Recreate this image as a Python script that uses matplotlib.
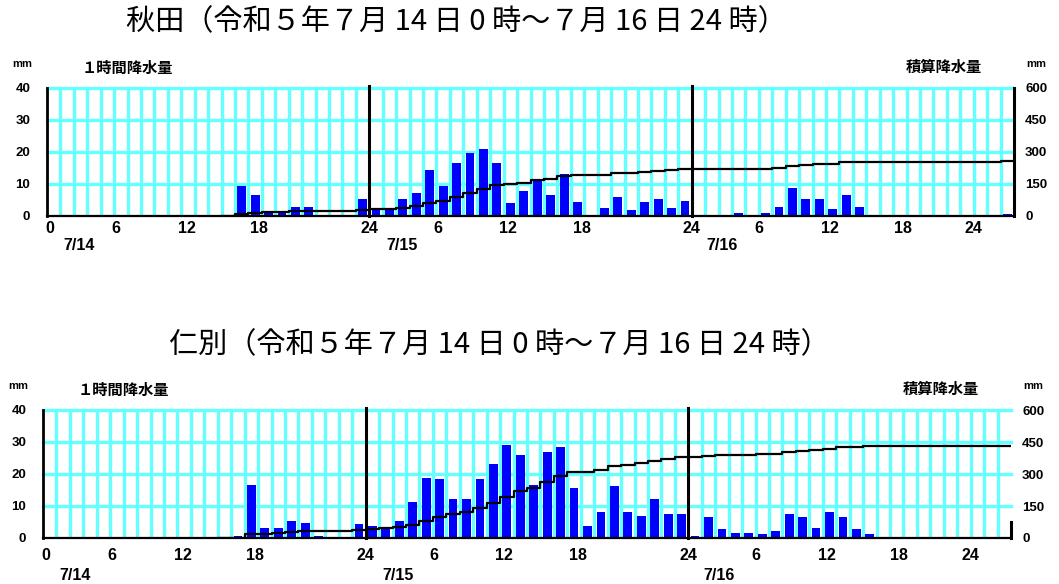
import numpy as np
import matplotlib
matplotlib.use('Agg')
import matplotlib.pyplot as plt

# hourly precipitation (mm), 7/14 1h .. 7/16 24h
akita_day1 = [0, 0, 0, 0, 0, 0, 0, 0, 0, 0, 0, 0, 0, 0, 9.5, 6.7, 1.3, 1.2, 2.8, 2.8, 0, 0, 0, 5.2]
akita_day2 = [2.6, 2.0, 5.4, 7.2, 14.4, 9.5, 16.5, 19.8, 20.8, 16.5, 4.0, 7.8,
              11.1, 6.5, 13.1, 4.4, 0.3, 2.6, 5.9, 2.0, 4.4, 5.2, 2.6, 4.8]
akita_day3 = [0, 0.3, 0.3, 1.0, 0, 1.0, 2.7, 8.8, 5.4, 5.4, 2.1, 6.6,
              2.7, 0, 0, 0, 0, 0, 0, 0, 0, 0, 0, 0.5]

niwa_day1 = [0, 0, 0, 0, 0, 0, 0, 0, 0, 0, 0, 0, 0, 0, 0.6, 16.7, 3.2, 3.2, 5.4, 4.7, 0.5, 0, 0, 4.3]
niwa_day2 = [3.8, 2.7, 5.4, 11.3, 18.8, 18.3, 12.3, 12.3, 18.3, 23.2, 29.0, 25.8,
             16.7, 26.9, 28.5, 15.7, 3.8, 8.1, 16.1, 8.1, 6.9, 12.3, 7.5, 7.5]
niwa_day3 = [0.6, 6.6, 2.7, 1.6, 1.6, 1.1, 2.1, 7.5, 6.5, 3.2, 8.1, 6.5,
             2.7, 1.1, 0, 0, 0, 0, 0, 0, 0, 0, 0, 0]

titles = ['秋田（令和５年７月 14 日 0 時～７月 16 日 24 時）',
          '仁別（令和５年７月 14 日 0 時～７月 16 日 24 時）']
hour_labels = ['0', '6', '12', '18', '24', '6', '12', '18', '24', '6', '12', '18', '24']
date_labels = ['7/14', '7/15', '7/16']
left_ticks = [0, 10, 20, 30, 40]
right_ticks = [0, 150, 300, 450, 600]

# where the original puts its hour / date labels (in hours along the axis)
hour_label_pos = [0.2, 5.1, 10.4, 15.8, 24, 29.1, 34.3, 39.8, 48, 53, 58.3, 63.7, 69]
date_label_pos = [2.4, 26.4, 50.3]

CYAN = '#66ffff'
BLUE = '#0000ff'
NUM_FONT = ['Liberation Sans', 'DejaVu Sans']
JP_FONT = ['Noto Sans CJK JP', 'DejaVu Sans']

W, H = 1059, 584
fig = plt.figure(figsize=(W / 100, H / 100), dpi=100)


def fpos(x, y):
    return x / W, 1 - y / H


def panel(left, top, right, bottom, rain, title, title_xy, lab_dy, date_dy, full_right):
    ax = fig.add_axes([left / W, 1 - bottom / H, (right - left) / W, (bottom - top) / H])
    hours = np.arange(1, len(rain) + 1)
    ax.set_xlim(0, 72)
    ax.set_ylim(0, 40)
    for h in range(1, 72):
        if h % 24:
            ax.axvline(h, color=CYAN, lw=2.4, zorder=1)
    for v in left_ticks[1:]:
        ax.axhline(v, color=CYAN, lw=2.4, zorder=1, clip_on=False)
    ax.bar(hours - 0.5, rain, width=0.66, color=BLUE, zorder=2)
    for d in (24, 48):
        ax.plot([d, d], [0, 40.6], color='black', lw=2.2, zorder=4, clip_on=False)

    ax.set_xticks([])
    ax.set_yticks(left_ticks)
    ax.set_yticklabels([str(t) for t in left_ticks], fontfamily=NUM_FONT,
                       fontweight='bold', fontsize=9.5)
    ax.tick_params(axis='y', length=0, pad=12)
    ax.spines['top'].set_visible(False)
    ax.spines['right'].set_visible(False)
    ax.spines['left'].set_linewidth(2.0)
    ax.spines['bottom'].set_linewidth(1.6)

    for lab, pos in zip(hour_labels, hour_label_pos):
        ax.annotate(lab, xy=(pos, 0), xycoords=('data', 'axes fraction'),
                    xytext=(0, -lab_dy), textcoords='offset pixels',
                    ha='center', va='center', fontfamily=NUM_FONT,
                    fontweight='bold', fontsize=11.5)
    for lab, pos in zip(date_labels, date_label_pos):
        ax.annotate(lab, xy=(pos, 0), xycoords=('data', 'axes fraction'),
                    xytext=(0, -date_dy), textcoords='offset pixels',
                    ha='center', va='center', fontfamily=NUM_FONT,
                    fontweight='bold', fontsize=11.5)

    # accumulated precipitation on the right scale
    ax2 = ax.twinx()
    ax2.set_ylim(0, 600)
    total = np.r_[0, np.cumsum(rain)]
    keep = np.r_[total[1:] > 0, True]
    total = np.where(keep, total, np.nan)
    ax2.plot(np.arange(len(total)), total, drawstyle='steps-pre', color='black', lw=1.6, zorder=5)
    ax2.set_yticks(right_ticks)
    ax2.set_yticklabels([str(t) for t in right_ticks], fontfamily=NUM_FONT,
                        fontweight='bold', fontsize=9.5)
    ax2.tick_params(axis='y', length=0, pad=8)
    for s in ('top', 'left', 'bottom'):
        ax2.spines[s].set_visible(False)
    ax2.spines['right'].set_linewidth(2.2)
    if not full_right:
        ax2.spines['right'].set_bounds(0, 75)

    tx, ty = fpos(*title_xy)
    fig.text(tx, ty, title, ha='center', va='center', fontfamily=JP_FONT, fontsize=21)
    tx, ty = fpos(left - 25, top - 24)
    fig.text(tx, ty, 'mm', ha='center', va='center', fontfamily=NUM_FONT, fontweight='bold', fontsize=8)
    tx, ty = fpos(right + 22, top - 24)
    fig.text(tx, ty, 'mm', ha='center', va='center', fontfamily=NUM_FONT, fontweight='bold', fontsize=8)
    tx, ty = fpos(left + 80, top - 20)
    fig.text(tx, ty, '１時間降水量', ha='center', va='center', fontfamily=JP_FONT,
             fontweight='bold', fontsize=11)
    tx, ty = fpos(right - 70, top - 21)
    fig.text(tx, ty, '積算降水量', ha='center', va='center', fontfamily=JP_FONT,
             fontweight='bold', fontsize=11)
    return ax


panel(47, 88, 1014, 216, akita_day1 + akita_day2 + akita_day3,
      titles[0], (456, 22), 13, 30, True)
panel(43, 410, 1011, 538, niwa_day1 + niwa_day2 + niwa_day3,
      titles[1], (499, 345), 18, 37, False)

fig.savefig('out.png', dpi=100, facecolor='white')
